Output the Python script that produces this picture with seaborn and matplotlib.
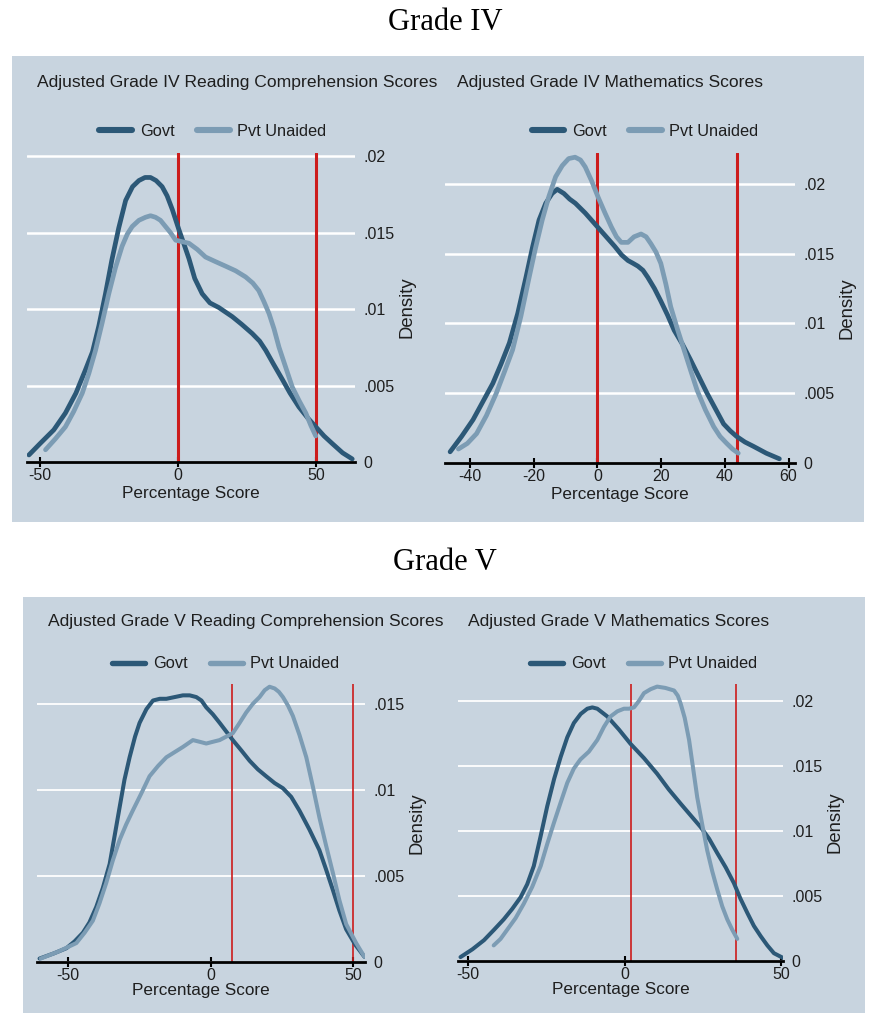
import numpy as np
import pandas as pd
import matplotlib
matplotlib.use("Agg")
import matplotlib.pyplot as plt
from matplotlib.patches import Rectangle
import seaborn as sns

# ---------------- data ----------------
# Grade IV Reading
r4_govt_x = [-54, -50, -45, -40.8, -37, -33.6, -31, -28.7, -26.3, -24, -21.5, -19, -16.5, -14.2, -12, -10, -8, -5.8, -4, -2.1, 0.25, 2, 3.9, 6, 8.7, 11.5, 14.7, 19.6, 23, 26.8, 29.5, 31.7, 34.5, 37.7, 40.5, 43.7, 46.8, 49.8, 52.8, 55.8, 59.5, 63]
r4_govt_y = [0.00046, 0.0012, 0.0021, 0.0032, 0.0045, 0.0060, 0.0072, 0.0089, 0.0110, 0.0132, 0.0153, 0.0171, 0.0180, 0.0184, 0.0186, 0.0186, 0.0184, 0.0180, 0.0174, 0.0165, 0.0152, 0.0143, 0.0133, 0.0120, 0.0110, 0.0104, 0.0101, 0.0095, 0.0090, 0.0084, 0.0079, 0.0073, 0.0064, 0.0054, 0.0045, 0.0036, 0.0029, 0.0023, 0.0017, 0.0012, 0.0006, 0.0002]
r4_pvt_x = [-48, -44.5, -40.8, -37.8, -34.7, -32.3, -29.9, -27.5, -25.1, -22.7, -20.3, -18.4, -16.6, -14.2, -11.8, -10, -8.2, -6.4, -4.6, -2.8, -0.9, 1.5, 3.9, 6.9, 9.9, 13.5, 17.2, 20.8, 24.4, 27, 29.2, 31, 32.9, 34.7, 36.5, 38.9, 41.3, 43.8, 46.2, 48, 49.8]
r4_pvt_y = [0.0008, 0.0015, 0.0023, 0.0033, 0.0045, 0.0058, 0.0073, 0.0091, 0.0110, 0.0127, 0.0141, 0.0149, 0.0154, 0.0158, 0.0160, 0.0161, 0.0160, 0.0158, 0.0154, 0.0150, 0.0145, 0.0144, 0.0143, 0.0139, 0.0134, 0.0131, 0.0128, 0.0125, 0.0121, 0.0117, 0.0112, 0.0105, 0.0097, 0.0087, 0.0075, 0.0062, 0.0049, 0.0040, 0.0032, 0.0024, 0.0017]

# Grade IV Mathematics
m4_govt_x = [-46.2, -42.6, -39, -35.9, -32.8, -30.2, -27.6, -25, -22.4, -20.3, -18.3, -16.2, -14.2, -12.6, -10.5, -8.7, -6.9, -3.8, -0.7, 2.4, 5.5, 7.6, 9.6, 11.2, 12.7, 14.3, 15.8, 17.9, 19.9, 22, 24.1, 26.7, 29.2, 31.8, 34.4, 37, 39.6, 41.7, 43.7, 46.3, 48.9, 53, 57.1]
m4_govt_y = [0.0008, 0.0019, 0.0031, 0.0044, 0.0057, 0.0071, 0.0086, 0.0107, 0.0133, 0.0155, 0.0174, 0.0186, 0.0193, 0.0196, 0.0193, 0.0189, 0.0186, 0.0179, 0.0171, 0.0163, 0.0155, 0.0149, 0.0145, 0.0143, 0.0141, 0.0138, 0.0133, 0.0125, 0.0116, 0.0106, 0.0095, 0.0085, 0.0074, 0.0062, 0.0050, 0.0039, 0.0028, 0.0023, 0.0019, 0.0015, 0.0012, 0.0007, 0.0003]
m4_pvt_x = [-43.6, -40.8, -37.9, -34.8, -31.7, -29.2, -26.6, -24, -21.4, -19.4, -17.3, -15.2, -13.1, -11, -9, -7, -5.3, -3.8, -1.8, 0.3, 2.4, 4.4, 6, 7.5, 9.6, 11.5, 13.7, 15.3, 16.8, 18.4, 19.9, 21.5, 23, 25.1, 27.2, 29.3, 31.3, 33.9, 36.5, 38.5, 40.6, 42.4, 44.2]
m4_pvt_y = [0.0010, 0.0014, 0.0021, 0.0034, 0.0050, 0.0065, 0.0081, 0.0105, 0.0133, 0.0154, 0.0174, 0.0191, 0.0205, 0.0213, 0.0218, 0.0219, 0.0217, 0.0212, 0.0202, 0.0190, 0.0179, 0.0169, 0.0162, 0.0158, 0.0158, 0.0162, 0.0164, 0.0162, 0.0157, 0.0151, 0.0143, 0.0128, 0.0112, 0.0096, 0.0081, 0.0066, 0.0052, 0.0038, 0.0026, 0.0019, 0.0014, 0.0010, 0.0007]

# Grade V Reading
r5_govt_x = [-60, -55, -50.6, -47.7, -44.8, -42.5, -40.1, -37.8, -35.4, -33.7, -31.9, -30.2, -28.4, -26.5, -24.9, -22.5, -20.2, -17.8, -15.5, -12.6, -9.7, -7.3, -5, -3.2, -1.5, 0.8, 3.2, 5.5, 7.8, 10.8, 13.7, 16.6, 19.5, 22.5, 25.4, 28.3, 31.2, 34.7, 38.2, 40.5, 42.9, 45.2, 47.6, 50.8, 54]
r5_govt_y = [0.0002, 0.0005, 0.0008, 0.0012, 0.0017, 0.0023, 0.0032, 0.0043, 0.0057, 0.0073, 0.0090, 0.0106, 0.0119, 0.0131, 0.0139, 0.0147, 0.0152, 0.0153, 0.0153, 0.0154, 0.0155, 0.0155, 0.0154, 0.0152, 0.0148, 0.0144, 0.0139, 0.0134, 0.0129, 0.0123, 0.0117, 0.0112, 0.0108, 0.0104, 0.0101, 0.0096, 0.0088, 0.0077, 0.0065, 0.0054, 0.0042, 0.0030, 0.0019, 0.0010, 0.0003]
r5_pvt_x = [-59.6, -53.5, -47.1, -44.2, -41.3, -39, -36.6, -34.3, -31.9, -29.6, -27.3, -24.3, -21.4, -18.4, -15.5, -12.6, -9.7, -6.2, -3.8, -1.5, 0.8, 3.2, 5.5, 7.8, 10.2, 12.5, 14.8, 17.2, 19, 20.7, 22.5, 24, 25.4, 27.2, 28.9, 31.2, 33.6, 35.9, 38.2, 40.5, 42.9, 45.2, 47.6, 51.1, 54]
r5_pvt_y = [0.0002, 0.0006, 0.0011, 0.0017, 0.0024, 0.0034, 0.0046, 0.0059, 0.0071, 0.0080, 0.0088, 0.0098, 0.0108, 0.0114, 0.0119, 0.0122, 0.0125, 0.0129, 0.0128, 0.0127, 0.0128, 0.0129, 0.0131, 0.0133, 0.0139, 0.0145, 0.0150, 0.0154, 0.0158, 0.0160, 0.0159, 0.0157, 0.0154, 0.0149, 0.0143, 0.0132, 0.0119, 0.0102, 0.0084, 0.0068, 0.0052, 0.0036, 0.0022, 0.0011, 0.0003]

# Grade V Mathematics
m5_govt_x = [-52.4, -48.6, -44.9, -41.7, -38.6, -35.9, -33.2, -31.1, -29, -26.9, -24.7, -22.5, -20.4, -18.3, -16.2, -14, -11.9, -10.3, -8.7, -7.1, -5.5, -1.8, 1.9, 6.2, 10.4, 14.1, 17.9, 21.1, 24.3, 27, 29.6, 32.3, 34.9, 37, 39.2, 41.3, 43.5, 45.6, 47.7, 50.9]
m5_govt_y = [0.0003, 0.0009, 0.0016, 0.0024, 0.0032, 0.0040, 0.0049, 0.0059, 0.0073, 0.0095, 0.0119, 0.0140, 0.0157, 0.0172, 0.0183, 0.0190, 0.0194, 0.0195, 0.0194, 0.0191, 0.0188, 0.0178, 0.0167, 0.0156, 0.0144, 0.0132, 0.0121, 0.0112, 0.0103, 0.0094, 0.0083, 0.0072, 0.0060, 0.0048, 0.0037, 0.0027, 0.0019, 0.0012, 0.0006, 0.0002]
m5_pvt_x = [-41.8, -39.6, -37.5, -34.8, -32.2, -29.5, -26.8, -24.7, -22.6, -20.4, -18.3, -16.2, -14.1, -11.4, -8.7, -6.6, -4.5, -2.3, -0.2, 1.4, 3, 4.6, 6.2, 8.3, 10.4, 13, 15.8, 17, 17.9, 19.2, 20.6, 21.9, 23.2, 24.8, 26.4, 28, 29.6, 31.2, 32.8, 34.4, 36]
m5_pvt_y = [0.0012, 0.0017, 0.0024, 0.0033, 0.0044, 0.0057, 0.0073, 0.0090, 0.0106, 0.0122, 0.0137, 0.0148, 0.0155, 0.0161, 0.0170, 0.0180, 0.0188, 0.0192, 0.0194, 0.0194, 0.0195, 0.0200, 0.0206, 0.0209, 0.0211, 0.0210, 0.0208, 0.0204, 0.0198, 0.0187, 0.0170, 0.0148, 0.0126, 0.0105, 0.0085, 0.0069, 0.0055, 0.0042, 0.0032, 0.0024, 0.0017]

series_labels = ["Govt", "Pvt Unaided"]
grade_titles = ["Grade IV", "Grade V"]
panel_titles = ["Adjusted Grade IV Reading Comprehension Scores",
                "Adjusted Grade IV Mathematics Scores",
                "Adjusted Grade V Reading Comprehension Scores",
                "Adjusted Grade V Mathematics Scores"]
x_label = "Percentage Score"
y_label = "Density"
xticks_r4 = [-50, 0, 50]
xticks_m4 = [-40, -20, 0, 20, 40, 60]
xticks_r5 = [-50, 0, 50]
xticks_m5 = [-50, 0, 50]
yticks_r4 = [0, 0.005, 0.01, 0.015, 0.02]
yticks_m4 = [0, 0.005, 0.01, 0.015, 0.02]
yticks_r5 = [0, 0.005, 0.01, 0.015]
yticks_m5 = [0, 0.005, 0.01, 0.015, 0.02]
vlines_r4 = [0, 50]
vlines_m4 = [0, 43.7]
vlines_r5 = [7.4, 50]
vlines_m5 = [1.9, 35.5]

# ---------------- style ----------------
sns.set_style("white")
plt.rcParams['font.family'] = ['Liberation Sans', 'DejaVu Sans']

GOVT = "#2c5877"
PVT = "#7c9cb4"
RED = "#cc1c1c"
BG = "#c8d4df"
TXT = "#1e1e1e"
FS = 11.5

W, H = 870, 1013
fig = plt.figure(figsize=(W / 100, H / 100), dpi=100)
fig.patch.set_facecolor("white")

def fx(px):
    return px / W

def fy(py):
    return 1 - py / H

# background panels
fig.add_artist(Rectangle((fx(12), fy(522)), fx(864) - fx(12), fy(56) - fy(522),
                         transform=fig.transFigure, facecolor=BG, edgecolor="none", zorder=0))
fig.add_artist(Rectangle((fx(23), fy(1013)), fx(865) - fx(23), fy(597) - fy(1013),
                         transform=fig.transFigure, facecolor=BG, edgecolor="none", zorder=0))

fig.text(fx(445), fy(22), grade_titles[0], family=['Liberation Serif', 'DejaVu Serif'],
         fontsize=22, ha="center", va="center", color="black")
fig.text(fx(445), fy(562), grade_titles[1], family=['Liberation Serif', 'DejaVu Serif'],
         fontsize=22, ha="center", va="center", color="black")

panels = [
    dict(gx=r4_govt_x, gy=r4_govt_y, px=r4_pvt_x, py=r4_pvt_y, box=(27, 153, 355, 462),
         xlim=(-54.7, 64), ylim=(0, 0.0202), xticks=xticks_r4, yticks=yticks_r4,
         vlines=vlines_r4, title=panel_titles[0], title_xy=(37, 82), leg_xy=(213, 131),
         lw=3.4, vlw=2.2, glw=1.8, xlpad=2),
    dict(gx=m4_govt_x, gy=m4_govt_y, px=m4_pvt_x, py=m4_pvt_y, box=(445, 153, 795, 463),
         xlim=(-47.8, 62), ylim=(0, 0.0222), xticks=xticks_m4, yticks=yticks_m4,
         vlines=vlines_m4, title=panel_titles[1], title_xy=(457, 82), leg_xy=(645, 131),
         lw=3.4, vlw=2.2, glw=1.8, xlpad=2),
    dict(gx=r5_govt_x, gy=r5_govt_y, px=r5_pvt_x, py=r5_pvt_y, box=(37, 684, 365, 962),
         xlim=(-60.9, 54.2), ylim=(0, 0.01616), xticks=xticks_r5, yticks=yticks_r5,
         vlines=vlines_r5, title=panel_titles[2], title_xy=(48, 621), leg_xy=(226, 664),
         lw=2.9, vlw=1.2, glw=1.3, xlpad=0),
    dict(gx=m5_govt_x, gy=m5_govt_y, px=m5_pvt_x, py=m5_pvt_y, box=(458, 684, 783, 961),
         xlim=(-53.2, 50.6), ylim=(0, 0.0213), xticks=xticks_m5, yticks=yticks_m5,
         vlines=vlines_m5, title=panel_titles[3], title_xy=(468, 621), leg_xy=(644, 664),
         lw=2.9, vlw=1.2, glw=1.3, xlpad=0),
]

def fmt(v):
    if v == 0:
        return "0"
    s = f"{v:.3f}".rstrip("0")
    return s.lstrip("0")

for p in panels:
    l, t, r, b = p["box"]
    ax = fig.add_axes([fx(l), fy(b), fx(r) - fx(l), fy(t) - fy(b)])
    ax.set_facecolor("none")
    df = pd.DataFrame({
        "score": list(p["gx"]) + list(p["px"]),
        "density": list(p["gy"]) + list(p["py"]),
        "School": [series_labels[0]] * len(p["gx"]) + [series_labels[1]] * len(p["px"]),
    })
    for v in p["vlines"]:
        ax.axvline(v, color=RED, lw=p["vlw"], zorder=2)
    sns.lineplot(data=df, x="score", y="density", hue="School",
                 palette={series_labels[0]: GOVT, series_labels[1]: PVT},
                 estimator=None, sort=True, linewidth=p["lw"], ax=ax, zorder=4,
                 solid_capstyle="round", solid_joinstyle="round")
    ax.set_xlim(*p["xlim"])
    ax.set_ylim(*p["ylim"])
    ax.set_xticks(p["xticks"])
    ax.set_xticklabels([str(v) for v in p["xticks"]])
    ax.set_yticks(p["yticks"])
    ax.set_yticklabels([fmt(v) for v in p["yticks"]])
    ax.yaxis.tick_right()
    ax.yaxis.set_label_position("right")
    ax.grid(axis="y", color="white", lw=p["glw"], zorder=1)
    ax.grid(axis="x", visible=False)
    for s in ["top", "left", "right"]:
        ax.spines[s].set_visible(False)
    ax.spines["bottom"].set_color("black")
    ax.spines["bottom"].set_linewidth(2)
    ax.spines["bottom"].set_zorder(5)
    ax.tick_params(axis="x", direction="inout", length=7, width=1.5, colors="black",
                   labelsize=FS, labelcolor=TXT, pad=1, bottom=True)
    ax.tick_params(axis="y", length=0, pad=6, labelsize=FS, labelcolor=TXT)
    ax.set_xlabel(x_label, fontsize=12.3, color=TXT, labelpad=p["xlpad"])
    ax.set_ylabel(y_label, fontsize=13.3, color=TXT, labelpad=3)
    sns.move_legend(ax, "center", bbox_to_anchor=(fx(p["leg_xy"][0]), fy(p["leg_xy"][1])),
                    bbox_transform=fig.transFigure, ncol=2, frameon=False, title=None,
                    fontsize=11.8, handlelength=2.0, handletextpad=0.45, columnspacing=1.4,
                    borderpad=0, labelcolor=TXT)
    leg = ax.get_legend()
    for ln in leg.get_lines():
        ln.set_linewidth(p["lw"] + 1)
        ln.set_solid_capstyle("round")
    fig.text(fx(p["title_xy"][0]), fy(p["title_xy"][1]), p["title"], fontsize=12.6,
             ha="left", va="center", color=TXT)

fig.savefig("out.png", dpi=100, facecolor="white")
